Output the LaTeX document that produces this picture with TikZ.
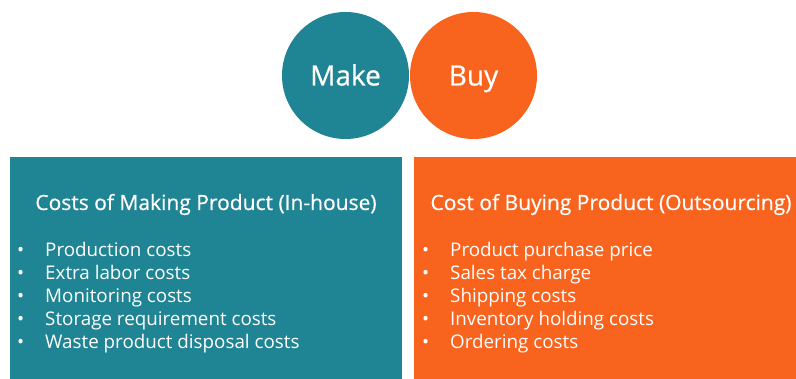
\documentclass[tikz,border=0pt]{standalone}
\usepackage{fontspec}
\setmainfont{Open Sans}
\newfontfamily\semifont{Open Sans}[FakeBold=0.6]
\definecolor{maketeal}{HTML}{1F8493}
\definecolor{buyorange}{HTML}{F8631E}
\tikzset{
  disc/.style={circle, minimum size=127pt, inner sep=0pt, text=white,
    font=\semifont\fontsize{28}{32}\selectfont, text height=20pt, text depth=0pt},
  panel/.style={rectangle, anchor=north west, inner sep=0pt,
    minimum height=222pt},
  heading/.style={text=white, anchor=base, inner sep=0pt,
    font=\semifont\fontsize{21}{24}\selectfont},
  item/.style={text=white, anchor=base west, inner sep=0pt,
    font=\fontsize{18.8}{22}\selectfont},
}
\begin{document}
\begin{tikzpicture}[x=1pt,y=-1pt]
\useasboundingbox (0,0) rectangle (796,379);
% circles
\node[disc, fill=maketeal] (make) at (345.5,75.5) {Make};
\node[disc, fill=buyorange] (buy) at (473.5,75.5) {Buy};
% panels
\node[panel, fill=maketeal, minimum width=392pt] (makebox) at (10,157) {};
\node[panel, fill=buyorange, minimum width=382pt] (buybox) at (414,157) {};
\node[heading] (maketitle) at (206,210) {Costs of Making Product (In-house)};
\node[heading] (buytitle) at (611,210) {Cost of Buying Product (Outsourcing)};
% cost lists
\foreach \txt [count=\i] in {Production costs, Extra labor costs,
    Monitoring costs, Storage requirement costs, Waste product disposal costs} {
  \node[item] (makebul\i) at (17,234+23*\i) {\textbullet};
  \node[item] (makeitem\i) at (45,234+23*\i) {\txt};
}
\foreach \txt [count=\i] in {Product purchase price, Sales tax charge,
    Shipping costs, Inventory holding costs, Ordering costs} {
  \node[item] (buybul\i) at (422,234+23*\i) {\textbullet};
  \node[item] (buyitem\i) at (450,234+23*\i) {\txt};
}
\end{tikzpicture}
\end{document}
